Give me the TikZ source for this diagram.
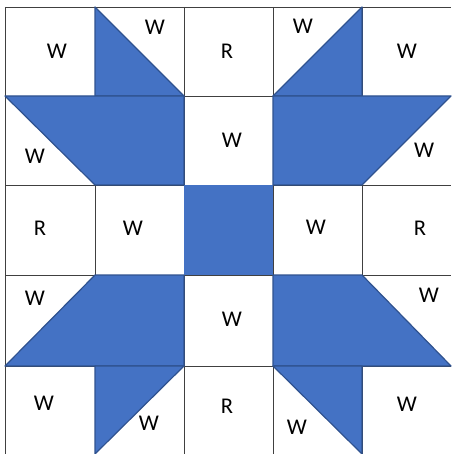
\documentclass[tikz,border=0pt]{standalone}
\usepackage{fontspec}
\setmainfont{Carlito}
\usepackage{tikz}
\definecolor{quiltblue}{HTML}{4472C4}
\definecolor{quiltedge}{HTML}{2F528F}

\begin{document}
\begin{tikzpicture}[
    x=1pt, y=-1pt,
    gridline/.style={draw=black!75, line width=0.8pt},
    patch/.style={fill=quiltblue, draw=quiltedge, line width=1.2pt, line join=round},
    lbl/.style={font=\fontsize{22.5}{26}\selectfont, inner sep=0pt}
]
\useasboundingbox (0,0) rectangle (451,454);

% grid
\draw[gridline] (5,7) -- (451,7);
\draw[gridline] (5,96) -- (451,96);
\draw[gridline] (5,185) -- (451,185);
\draw[gridline] (5,275) -- (451,275);
\draw[gridline] (5,366) -- (451,366);
\draw[gridline] (5,7) -- (5,454);
\draw[gridline] (95,7) -- (95,454);
\draw[gridline] (184,7) -- (184,454);
\draw[gridline] (273,7) -- (273,454);
\draw[gridline] (362,7) -- (362,454);

% centre
\fill[quiltblue] (184,185) rectangle (273,275);

% top left
\draw[patch] (95,7) -- (184,96) -- (95,96) -- cycle;
\draw[patch] (5,96) -- (184,96) -- (184,185) -- (95,185) -- cycle;
% top right
\draw[patch] (362,7) -- (362,96) -- (273,96) -- cycle;
\draw[patch] (273,96) -- (451,96) -- (362,185) -- (273,185) -- cycle;
% bottom left
\draw[patch] (95,275) -- (184,275) -- (184,366) -- (5,366) -- cycle;
\draw[patch] (95,366) -- (184,366) -- (95,454) -- cycle;
% bottom right
\draw[patch] (273,275) -- (362,275) -- (451,366) -- (273,366) -- cycle;
\draw[patch] (273,366) -- (362,366) -- (362,454) -- cycle;

% labels
\node[lbl] (w00) at (57,51) {W};
\node[lbl] (w01) at (155,27) {W};
\node[lbl] (r02) at (227,51) {R};
\node[lbl] (w03) at (303,26) {W};
\node[lbl] (w04) at (407,51) {W};
\node[lbl] (w10) at (35,156) {W};
\node[lbl] (w12) at (232,140) {W};
\node[lbl] (w14) at (424,150) {W};
\node[lbl] (r20) at (40,228) {R};
\node[lbl] (w21) at (133,228) {W};
\node[lbl] (w23) at (316,227) {W};
\node[lbl] (r24) at (420,228) {R};
\node[lbl] (w30) at (35,298) {W};
\node[lbl] (w32) at (232,319) {W};
\node[lbl] (w34) at (429,295) {W};
\node[lbl] (w40) at (44,403) {W};
\node[lbl] (w41) at (149,423) {W};
\node[lbl] (r42) at (227,406) {R};
\node[lbl] (w43) at (297,427) {W};
\node[lbl] (w44) at (407,404) {W};
\end{tikzpicture}
\end{document}
